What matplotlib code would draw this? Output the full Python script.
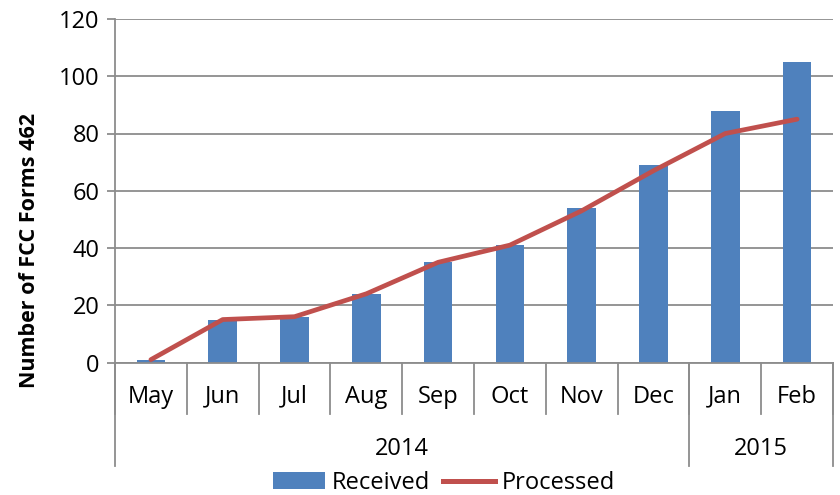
import matplotlib
matplotlib.use("Agg")
import matplotlib.pyplot as plt
from matplotlib.patches import Patch
from matplotlib.lines import Line2D
import numpy as np

months = ["May", "Jun", "Jul", "Aug", "Sep", "Oct", "Nov", "Dec", "Jan", "Feb"]
years = ["2014", "2015"]
year_counts = [8, 2]
received = [1, 15, 16, 24, 35, 41, 54, 69, 88, 105]
processed = [1, 15, 16, 24, 35, 41, 53, 67, 80, 85]
yticks = [0, 20, 40, 60, 80, 100, 120]

plt.rcParams['font.family'] = ['Open Sans', 'DejaVu Sans']
BLUE = "#4F81BD"
RED = "#C0504D"
GRID = "#8c8c8c"
FS = 17

fig = plt.figure(figsize=(8.4, 4.95), dpi=100)
ax = fig.add_axes([115/840, 1-362.5/495, (833-115)/840, (362.5-19)/495])

x = np.arange(len(months))
ax.bar(x, received, width=0.4, color=BLUE, zorder=2)
ax.plot(x, processed, color=RED, lw=3.4, zorder=3, solid_capstyle='round')

ax.set_xlim(-0.5, len(months) - 0.5)
ax.set_ylim(0, 120)
ax.set_yticks(yticks)
ax.set_yticklabels([str(v) for v in yticks], fontsize=FS)
ax.yaxis.grid(True, color=GRID, lw=1.3, zorder=0)
ax.set_axisbelow(True)
for s in ["top", "right"]:
    ax.spines[s].set_visible(False)
ax.spines["left"].set_color(GRID)
ax.spines["bottom"].set_color(GRID)
ax.spines["left"].set_linewidth(1.3)
ax.spines["bottom"].set_linewidth(1.3)
ax.tick_params(axis='y', length=6, width=1.3, color=GRID, pad=5)
ax.set_xticks([])

fig.text(30/840, 1-250/495, "Number of FCC Forms 462", rotation=90, ha='center', va='center',
         fontsize=15.5, fontweight='bold')

trans = ax.get_xaxis_transform()
# month separators
for i in range(len(months) + 1):
    ax.plot([i - 0.5, i - 0.5], [0, -0.150], transform=trans, color=GRID, lw=1.3, clip_on=False)
# month labels
for i, m in enumerate(months):
    ax.text(i, -0.100, m, transform=trans, ha='center', va='center', fontsize=FS)
# year separators and labels
start = 0
bounds = [start]
for c in year_counts:
    start += c
    bounds.append(start)
for b in bounds:
    ax.plot([b - 0.5, b - 0.5], [0, -0.301], transform=trans, color=GRID, lw=1.3, clip_on=False)
for yr, a, b in zip(years, bounds[:-1], bounds[1:]):
    ax.text((a + b - 1) / 2, -0.252, yr, transform=trans, ha='center', va='center', fontsize=FS)

handles = [Patch(facecolor=BLUE, edgecolor='none'), Line2D([0], [0], color=RED, lw=3.6)]
fig.legend(handles, ["Received", "Processed"], loc='center', bbox_to_anchor=(444/840, 1-483/495),
           ncol=2, frameon=False, fontsize=FS, handlelength=2.2, handletextpad=0.3,
           columnspacing=0.55, borderpad=0, borderaxespad=0)

fig.savefig("out.png", dpi=100)
